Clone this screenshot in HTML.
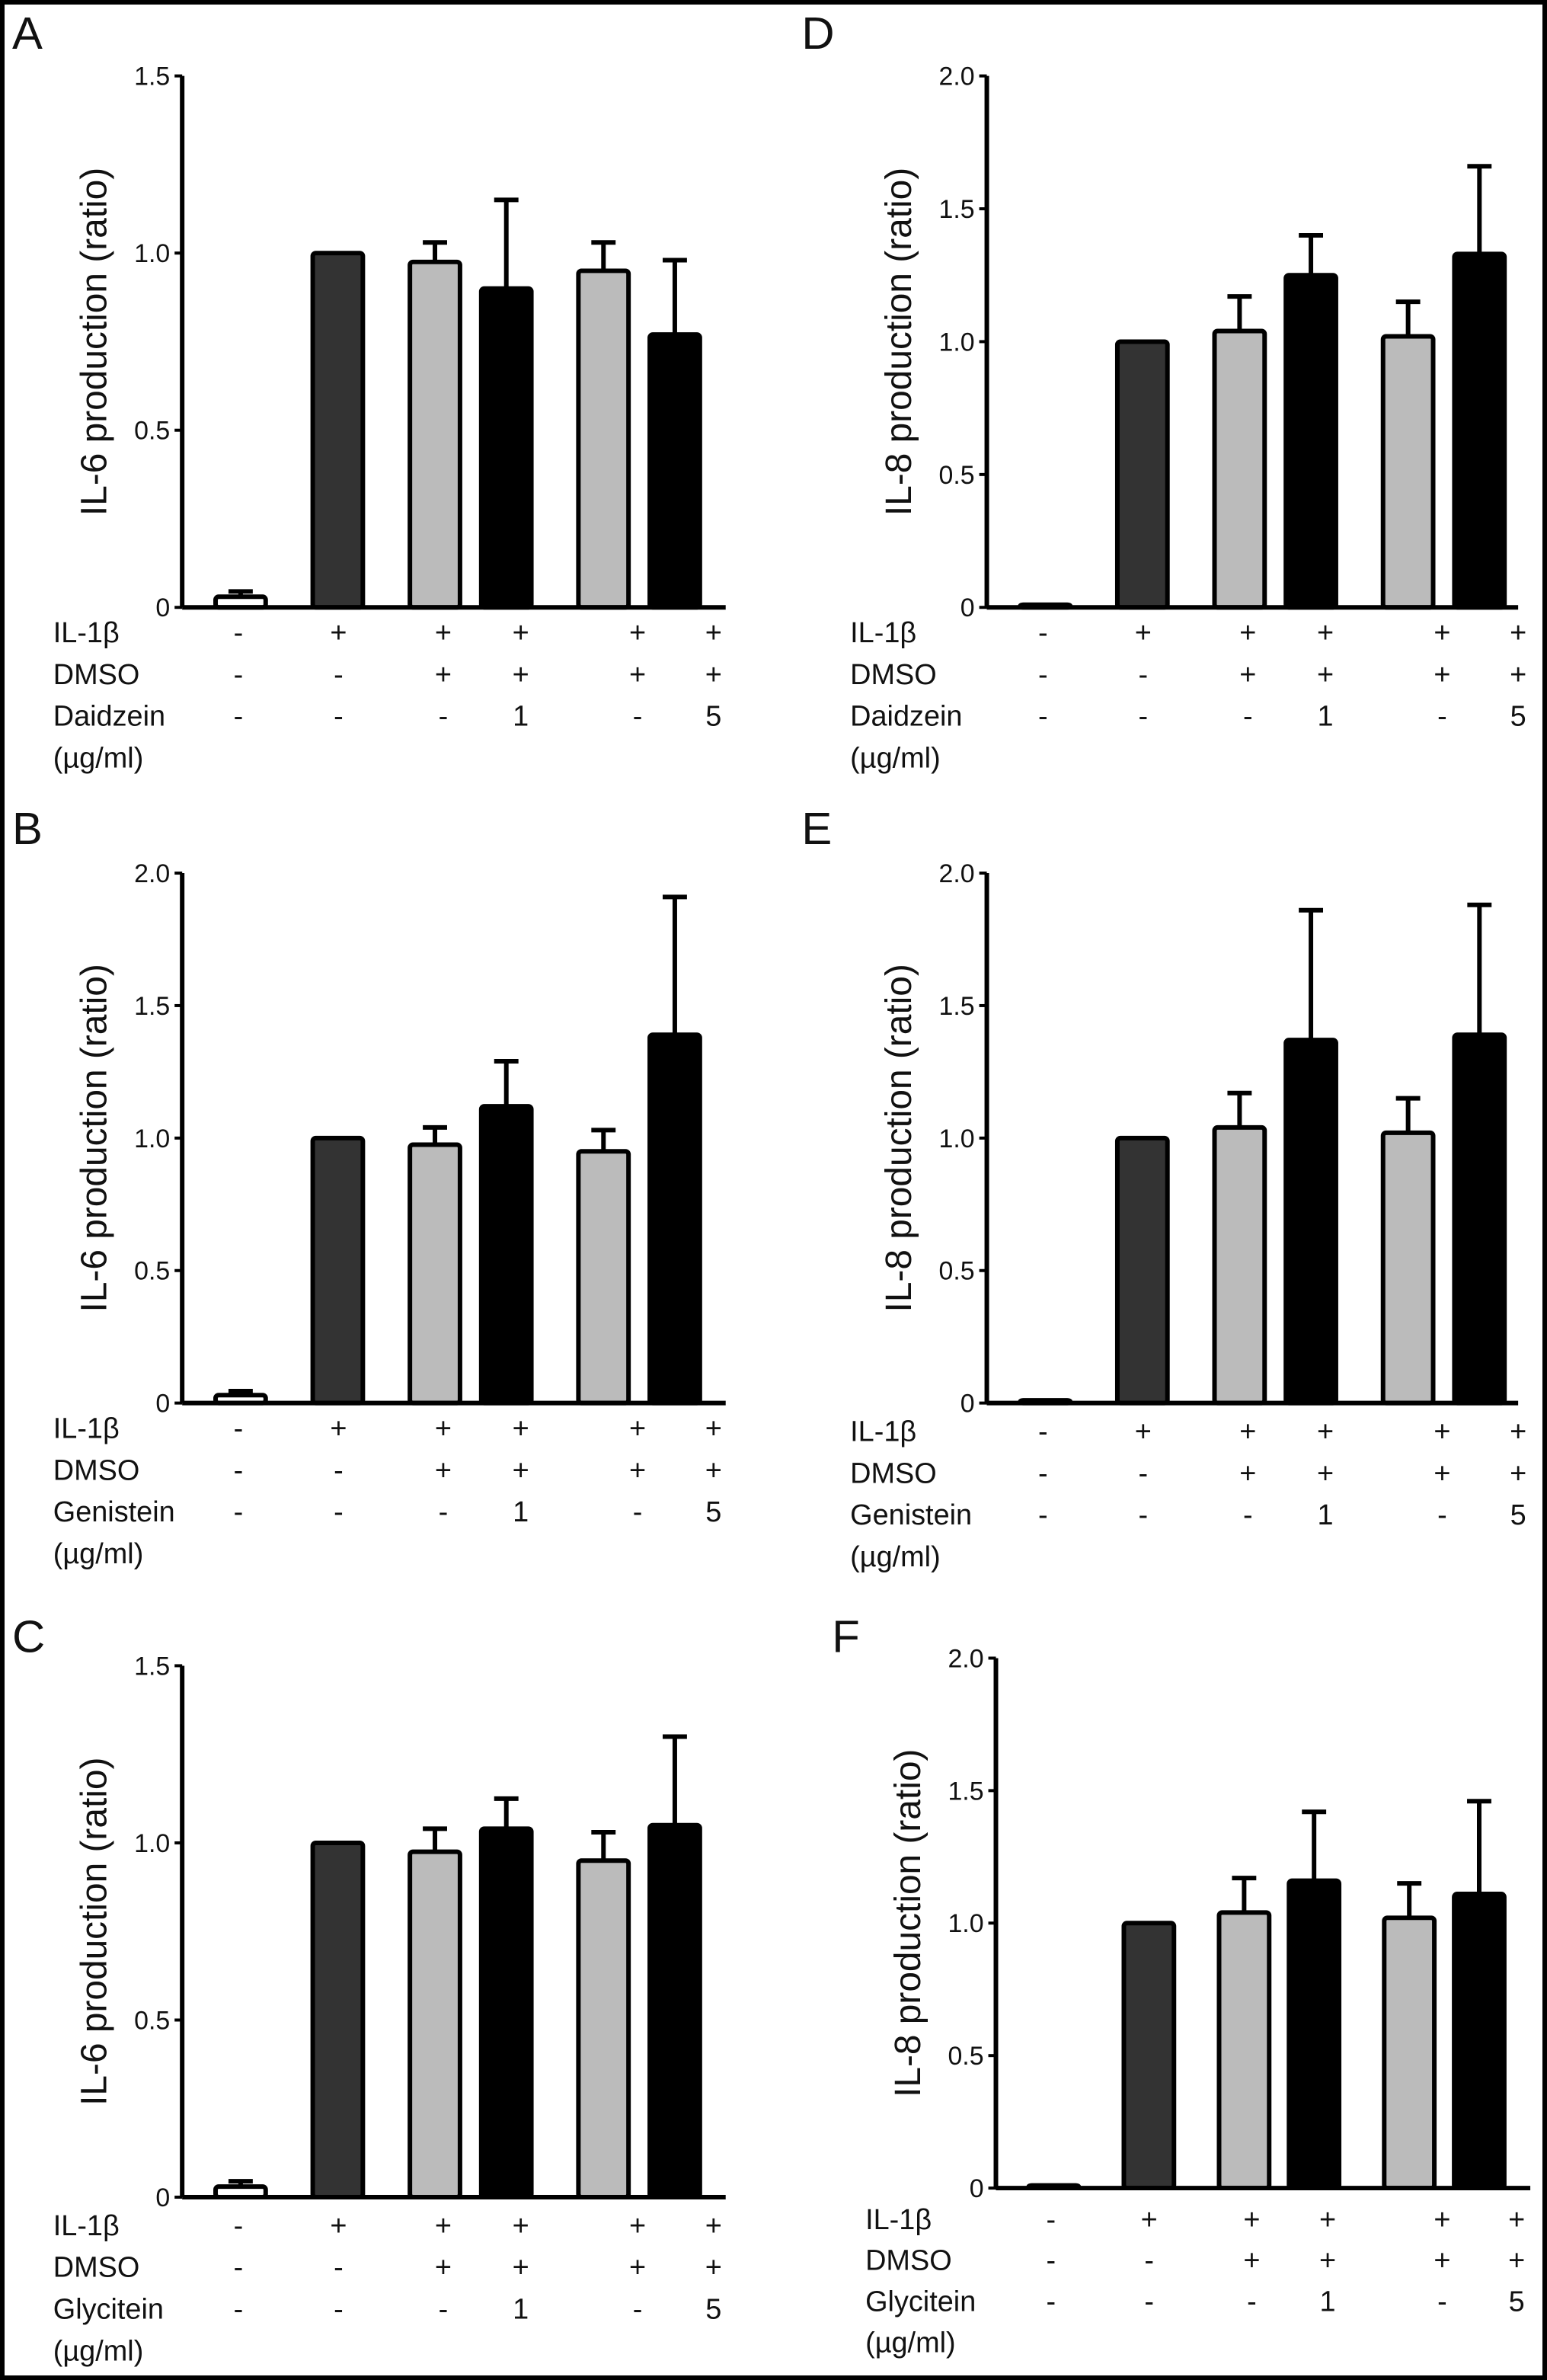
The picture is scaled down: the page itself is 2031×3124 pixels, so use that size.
<!DOCTYPE html>
<html><head><meta charset="utf-8">
<style>
html,body{margin:0;padding:0;background:#fff}
svg{display:block}
text{font-family:"Liberation Sans",sans-serif;fill:#111}
</style></head>
<body>
<svg id="fig" width="2031" height="3124" viewBox="0 0 1019 1567.4" preserveAspectRatio="none" xmlns="http://www.w3.org/2000/svg">
<rect x="1.5" y="1.5" width="1016" height="1564.4" fill="#fff" stroke="#000" stroke-width="3"/>
</svg>
<script>
// ---- data ----
const barFills = ["#fff","#333","#bbb","#000","#bbb","#000"];
const valsA = [0.03,1.0,0.975,0.90,0.95,0.77];
const errA  = [0.045,1.0,1.03,1.15,1.03,0.98];
const valsB = [0.03,1.0,0.975,1.12,0.95,1.39];
const errB  = [0.045,1.0,1.04,1.29,1.03,1.91];
const valsC = [0.03,1.0,0.975,1.04,0.95,1.05];
const errC  = [0.045,1.0,1.04,1.125,1.03,1.30];
const valsD = [0.01,1.0,1.04,1.25,1.02,1.33];
const errD  = [0.01,1.0,1.17,1.40,1.15,1.66];
const valsE = [0.01,1.0,1.04,1.37,1.02,1.39];
const errE  = [0.01,1.0,1.17,1.86,1.15,1.88];
const valsF = [0.01,1.0,1.04,1.16,1.02,1.11];
const errF  = [0.01,1.0,1.17,1.42,1.15,1.46];
const ticks15 = ["0","0.5","1.0","1.5"];
const ticks20 = ["0","0.5","1.0","1.5","2.0"];
const rowIL = ["-","+","+","+","+","+"];
const rowDMSO = ["-","-","+","+","+","+"];
const rowDose = ["-","-","-","1","-","5"];

const NS="http://www.w3.org/2000/svg";
const svg=document.getElementById('fig');
function mk(tag,attrs,parent,txt){const e=document.createElementNS(NS,tag);for(const k in attrs)e.setAttribute(k,attrs[k]);if(txt!==undefined)e.textContent=txt;(parent||svg).appendChild(e);return e;}

const barOff=[22,86,150,197,261,308]; // left offsets of bars relative to axis
const symOff=[37,103,172,223,300,350];

function panel(p){
  const g=mk('g',{});
  
  
  const ymax=p.ymax, H=p.zero-p.top;
  const y=v=>p.zero-v/ymax*H;
  const x=i=>p.ax+barOff[i]*p.sx;
  const bw=33;
  const L=mk('text',{x:p.lx,y:p.ly,'font-size':30},g,p.letter);
  
  
  p.vals.forEach((v,i)=>{
    const e=p.err[i];
    if(e>v+0.005){
      const cx=x(i)+bw/2;
      const el=mk('line',{x1:cx,x2:cx,y1:y(e),y2:y(v),stroke:'#000','stroke-width':3},g);
      
      
      const cap=mk('line',{x1:cx-8,x2:cx+8,y1:y(e),y2:y(e),stroke:'#000','stroke-width':3},g);
      
      
    }
    const r=mk('rect',{x:x(i),y:y(v),width:bw,height:Math.max(p.zero-y(v),1),fill:barFills[i],stroke:'#000','stroke-width':3,rx:2},g);
    
    
  });
  const ya=mk('line',{x1:p.ax,x2:p.ax,y1:p.top,y2:p.zero,stroke:'#000','stroke-width':3},g);
  
  
  const xa=mk('line',{x1:p.ax,x2:p.ax+p.xlen,y1:p.zero,y2:p.zero,stroke:'#000','stroke-width':3},g);
  
  
  p.ticks.forEach((t,i)=>{
    const v=i*0.5, yy=y(v);
    const tk=mk('line',{x1:p.ax-5,x2:p.ax,y1:yy,y2:yy,stroke:'#000','stroke-width':2},g);
    
    
    const tl=mk('text',{x:p.ax-8,y:yy+6,'font-size':17,'text-anchor':'end',fill:'#333'},g,t);
    
    
  });
  const ty=(p.top+p.zero)/2;
  const tt=mk('text',{x:0,y:0,'font-size':24,'text-anchor':'middle',transform:`translate(${p.ax-50},${ty}) rotate(-90)`},g,p.title);
  
  
  const rows=[["IL-1β",rowIL],["DMSO",rowDMSO],[p.comp,rowDose],["(µg/ml)",null]];
  rows.forEach((r,ri)=>{
    const yy=p.rowY+ri*p.rowGap;
    const lab=mk('text',{x:p.tx,y:yy,'font-size':19},g,r[0]);
    
    
    if(r[1]) r[1].forEach((s,i)=>{
      const st=mk('text',{x:p.ax+symOff[i]*p.sx,y:yy,'font-size':19,'text-anchor':'middle'},g,s);
      
      
    });
  });
}

panel({letter:'A',lx:8,ly:32,ax:120,top:50,zero:400,ymax:1.5,ticks:ticks15,xlen:358,sx:1,vals:valsA,err:errA,title:'IL-6 production (ratio)',comp:'Daidzein',tx:35,rowY:423,rowGap:27.5});
panel({letter:'B',lx:8,ly:556,ax:120,top:575,zero:924,ymax:2.0,ticks:ticks20,xlen:358,sx:1,vals:valsB,err:errB,title:'IL-6 production (ratio)',comp:'Genistein',tx:35,rowY:947,rowGap:27.5});
panel({letter:'C',lx:8,ly:1088,ax:120,top:1097,zero:1447,ymax:1.5,ticks:ticks15,xlen:358,sx:1,vals:valsC,err:errC,title:'IL-6 production (ratio)',comp:'Glycitein',tx:35,rowY:1472,rowGap:27.5});
panel({letter:'D',lx:528,ly:32,ax:650,top:50,zero:400,ymax:2.0,ticks:ticks20,xlen:350,sx:1,vals:valsD,err:errD,title:'IL-8 production (ratio)',comp:'Daidzein',tx:560,rowY:423,rowGap:27.5});
panel({letter:'E',lx:528,ly:556,ax:650,top:575,zero:924,ymax:2.0,ticks:ticks20,xlen:350,sx:1,vals:valsE,err:errE,title:'IL-8 production (ratio)',comp:'Genistein',tx:560,rowY:949,rowGap:27.5});
panel({letter:'F',lx:548,ly:1088,ax:656,top:1092,zero:1441,ymax:2.0,ticks:ticks20,xlen:352,sx:0.98,vals:valsF,err:errF,title:'IL-8 production (ratio)',comp:'Glycitein',tx:570,rowY:1468,rowGap:27});
</script>
</body></html>
